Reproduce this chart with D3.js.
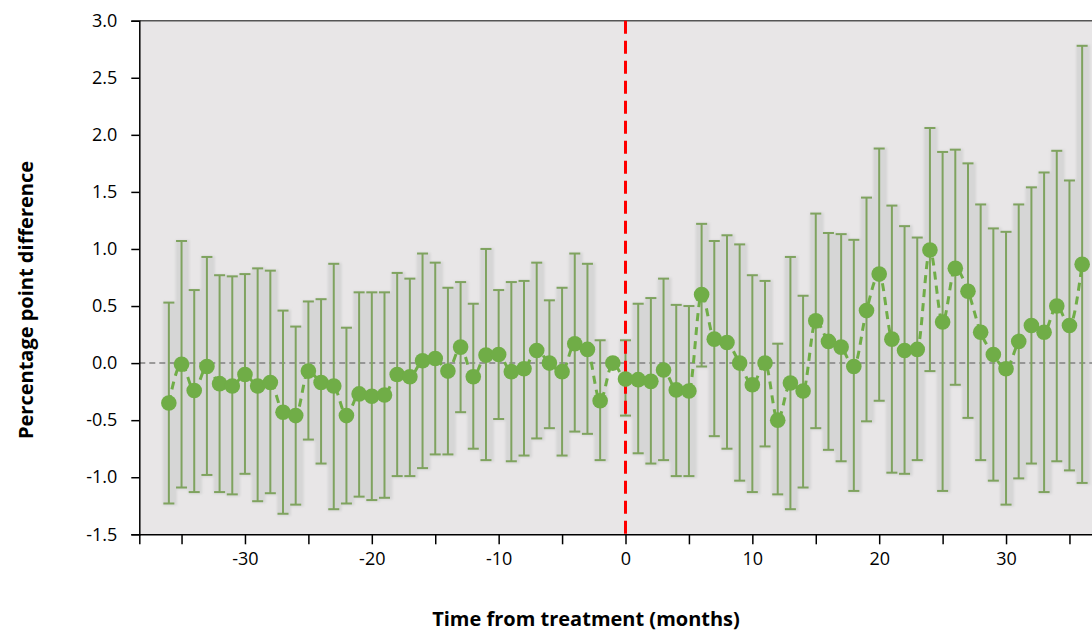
<!DOCTYPE html>
<html lang="en">
<head>
    <meta charset="UTF-8">
    <title>Event study: percentage point difference</title>
    <script src="https://d3js.org/d3.v7.min.js"></script>
    <style>
        body { margin: 0; background: #fff; }
        svg { display: block; font-family: "Open Sans", "Liberation Sans", sans-serif; }
        .tick-label { font-size: 18px; fill: #000; }
        .axis-title { font-size: 20px; font-weight: bold; fill: #000; }
    </style>
</head>
<body>
    <div id="chart"></div>

    <script>
        // months relative to treatment (-1 is the reference month, no interval)
        const months = d3.range(-36, 37);

        const estimate = [
            -0.35, -0.01, -0.24, -0.03, -0.18, -0.20, -0.10, -0.20, -0.17, -0.43,
            -0.46, -0.07, -0.17, -0.20, -0.46, -0.27, -0.29, -0.28, -0.10, -0.12,
             0.02,  0.04, -0.07,  0.14, -0.12,  0.07,  0.075, -0.075, -0.05, 0.11,
             0.00, -0.075, 0.17,  0.12, -0.33,  0.00, -0.14, -0.145, -0.16, -0.06,
            -0.235, -0.245, 0.60, 0.21,  0.18,  0.00, -0.19,  0.00, -0.50, -0.175,
            -0.245, 0.37,  0.19,  0.14, -0.03,  0.46,  0.78,  0.21,  0.11,  0.12,
             0.99,  0.36,  0.83,  0.63,  0.27,  0.075, -0.05, 0.19,  0.33,  0.27,
             0.50,  0.33,  0.865
        ];

        const upper = [
            0.53, 1.07, 0.64, 0.93, 0.77, 0.76, 0.78, 0.83, 0.81, 0.46,
            0.32, 0.54, 0.56, 0.87, 0.31, 0.62, 0.62, 0.62, 0.79, 0.74,
            0.96, 0.88, 0.66, 0.71, 0.52, 1.00, 0.64, 0.71, 0.72, 0.88,
            0.55, 0.66, 0.96, 0.87, 0.20, null, 0.20, 0.52, 0.57, 0.74,
            0.51, 0.50, 1.22, 1.07, 1.12, 1.04, 0.77, 0.72, 0.17, 0.93,
            0.59, 1.31, 1.14, 1.13, 1.08, 1.45, 1.88, 1.38, 1.20, 1.10,
            2.06, 1.85, 1.87, 1.75, 1.39, 1.18, 1.15, 1.39, 1.54, 1.67,
            1.86, 1.60, 2.78
        ];

        const lower = [
            -1.23, -1.09, -1.13, -0.98, -1.13, -1.15, -0.97, -1.21, -1.14, -1.32,
            -1.24, -0.67, -0.88, -1.28, -1.23, -1.17, -1.20, -1.18, -0.99, -0.99,
            -0.92, -0.80, -0.80, -0.43, -0.75, -0.85, -0.49, -0.86, -0.81, -0.66,
            -0.57, -0.81, -0.60, -0.62, -0.85, null, -0.46, -0.79, -0.88, -0.85,
            -0.99, -0.99, -0.03, -0.64, -0.75, -1.03, -1.13, -0.73, -1.15, -1.28,
            -1.09, -0.57, -0.76, -0.86, -1.12, -0.51, -0.33, -0.96, -0.97, -0.85,
            -0.07, -1.12, -0.19, -0.48, -0.85, -1.03, -1.24, -1.01, -0.88, -1.13,
            -0.86, -0.94, -1.05
        ];

        const yTicks = [-1.5, -1.0, -0.5, 0.0, 0.5, 1.0, 1.5, 2.0, 2.5, 3.0];
        const xTicks = [-35, -30, -25, -20, -15, -10, -5, 0, 5, 10, 15, 20, 25, 30, 35];
        const xLabels = [-30, -20, -10, 0, 10, 20, 30];

        const data = months.map((m, i) => ({ m: m, v: estimate[i], hi: upper[i], lo: lower[i] }));

        const width = 1092, height = 634;
        const plotLeft = 139.3, plotTop = 20.7, plotBottom = 534.3;

        const svg = d3.select("#chart").append("svg")
            .attr("width", width)
            .attr("height", height);

        const x = d3.scaleLinear().domain([-38.33, 38.33]).range([plotLeft, 1111.7]);
        const y = d3.scaleLinear().domain([-1.5, 3.0]).range([plotBottom, plotTop]);

        // soft shadow behind error bars
        svg.append("defs").append("filter")
            .attr("id", "soft")
            .attr("x", "-50%").attr("y", "-5%").attr("width", "200%").attr("height", "110%")
            .append("feGaussianBlur").attr("stdDeviation", 1.2);

        // plot area
        svg.append("rect")
            .attr("x", plotLeft).attr("y", plotTop)
            .attr("width", x.range()[1] - plotLeft).attr("height", plotBottom - plotTop)
            .attr("fill", "#e8e6e7");

        svg.append("line")
            .attr("x1", plotLeft).attr("x2", x.range()[1])
            .attr("y1", plotTop).attr("y2", plotTop)
            .attr("stroke", "#555").attr("stroke-width", 1.5);

        const withCI = data.filter(d => d.hi !== null);

        svg.append("g").attr("filter", "url(#soft)")
            .selectAll("rect")
            .data(withCI)
            .enter().append("rect")
            .attr("x", d => x(d.m) - 6)
            .attr("y", d => y(d.hi) - 1)
            .attr("width", 14)
            .attr("height", d => y(d.lo) - y(d.hi) + 3)
            .attr("fill", "#d6d6d6");

        // zero line
        svg.append("line")
            .attr("x1", plotLeft).attr("x2", x.range()[1])
            .attr("y1", y(0)).attr("y2", y(0))
            .attr("stroke", "#808080").attr("stroke-width", 1.5)
            .attr("stroke-dasharray", "6,4");

        // error bars
        const bars = svg.append("g")
            .attr("stroke", "#7fa35f")
            .attr("stroke-width", 2);

        bars.selectAll(".stem")
            .data(withCI)
            .enter().append("line")
            .attr("x1", d => x(d.m)).attr("x2", d => x(d.m))
            .attr("y1", d => y(d.hi)).attr("y2", d => y(d.lo));

        bars.selectAll(".cap-hi")
            .data(withCI)
            .enter().append("line")
            .attr("x1", d => x(d.m) - 5.5).attr("x2", d => x(d.m) + 5.5)
            .attr("y1", d => y(d.hi)).attr("y2", d => y(d.hi));

        bars.selectAll(".cap-lo")
            .data(withCI)
            .enter().append("line")
            .attr("x1", d => x(d.m) - 5.5).attr("x2", d => x(d.m) + 5.5)
            .attr("y1", d => y(d.lo)).attr("y2", d => y(d.lo));

        // treatment line
        svg.append("line")
            .attr("x1", x(0)).attr("x2", x(0))
            .attr("y1", plotTop).attr("y2", plotBottom)
            .attr("stroke", "#ff0000").attr("stroke-width", 3)
            .attr("stroke-dasharray", "13,7");

        // estimates
        const line = d3.line().x(d => x(d.m)).y(d => y(d.v)).curve(d3.curveMonotoneX);

        svg.append("path")
            .datum(data)
            .attr("d", line)
            .attr("fill", "none")
            .attr("stroke", "#70ad47")
            .attr("stroke-width", 3)
            .attr("stroke-dasharray", "8,6");

        svg.append("g")
            .selectAll("circle")
            .data(data)
            .enter().append("circle")
            .attr("cx", d => x(d.m))
            .attr("cy", d => y(d.v))
            .attr("r", 7.8)
            .attr("fill", "#70ad47");

        // axes
        const yAxis = svg.append("g")
            .attr("transform", `translate(${plotLeft},0)`)
            .call(d3.axisLeft(y).tickValues(yTicks).tickSize(8).tickPadding(14).tickFormat(d => d.toFixed(1)));
        yAxis.select(".domain").attr("stroke", "#000").attr("stroke-width", 1.5);
        yAxis.selectAll(".tick line").attr("stroke", "#000").attr("stroke-width", 1.5);
        yAxis.selectAll("text").attr("class", "tick-label");
        yAxis.attr("font-size", null).attr("font-family", null);

        const xAxis = svg.append("g")
            .attr("transform", `translate(0,${plotBottom})`)
            .call(d3.axisBottom(x).tickValues(xTicks).tickSize(10).tickPadding(8)
                .tickFormat(d => xLabels.includes(d) ? String(d) : ""));
        xAxis.select(".domain").attr("stroke", "#000").attr("stroke-width", 1.5);
        xAxis.selectAll(".tick line").attr("stroke", "#000").attr("stroke-width", 1.5);
        xAxis.selectAll("text").attr("class", "tick-label");
        xAxis.attr("font-size", null).attr("font-family", null);

        // axis titles
        svg.append("text")
            .attr("class", "axis-title")
            .attr("x", 586)
            .attr("y", 626)
            .attr("text-anchor", "middle")
            .text("Time from treatment (months)");

        svg.append("text")
            .attr("class", "axis-title")
            .attr("transform", "translate(33,300) rotate(-90)")
            .attr("text-anchor", "middle")
            .text("Percentage point difference");
    </script>
</body>
</html>
